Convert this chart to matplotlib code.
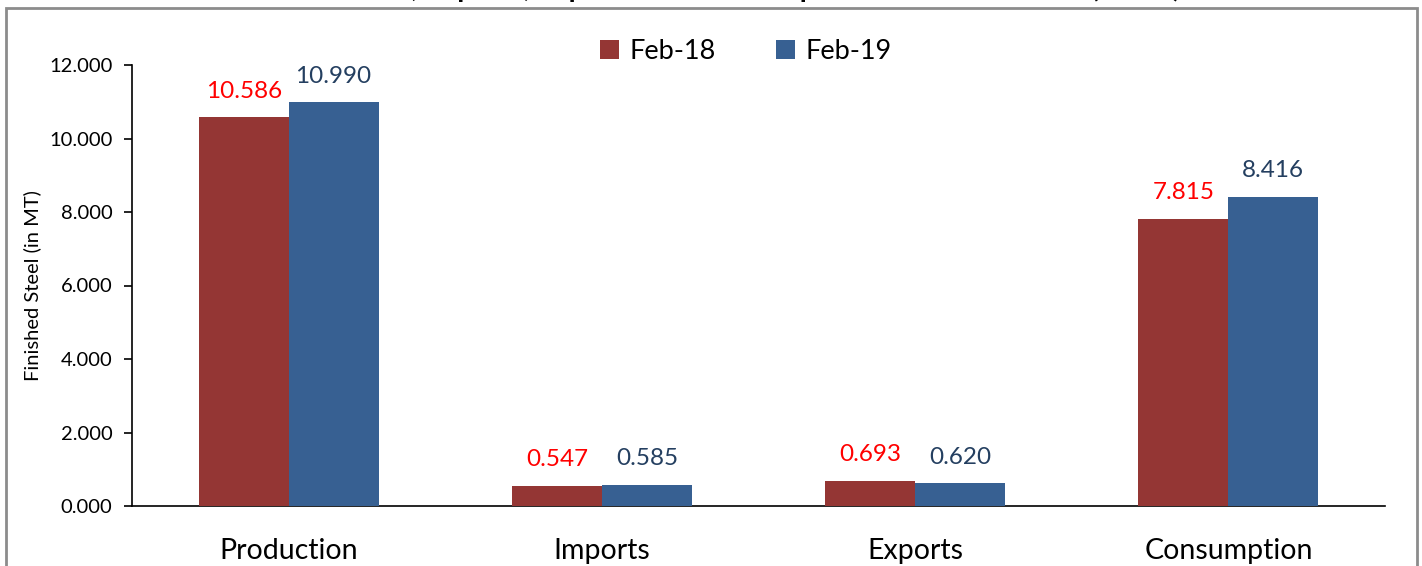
import numpy as np
import matplotlib.pyplot as plt
from matplotlib.patches import Rectangle

plt.rcParams['font.family'] = ['Lato', 'DejaVu Sans']

categories = ['Production', 'Imports', 'Exports', 'Consumption']
feb18 = [10.586, 0.547, 0.693, 7.815]
feb19 = [10.990, 0.585, 0.620, 8.416]
series_labels = ['Feb-18', 'Feb-19']
yticks = [0, 2, 4, 6, 8, 10, 12]

W, H = 1422, 566
fig = plt.figure(figsize=(W / 100, H / 100), dpi=100)

# outer frame of the chart (bottom edge lies outside the picture)
fig.patches.append(Rectangle((6 / W, -0.05), (1417 - 6) / W, 1.05 - 8 / H,
                             transform=fig.transFigure, fill=False,
                             edgecolor='#8c8c8c', linewidth=2))

# title, mostly cut off at the top edge
fig.text(725 / W, 1 + 3 / H, 'Production, Imports, Exports and Consumption of Finished Steel (in MT)',
         ha='center', va='baseline', fontsize=20.5, fontweight='bold', color='black')

ax = fig.add_axes([132 / W, 1 - 506 / H, (1385 - 132) / W, (506 - 65) / H])

x = np.arange(len(categories))
bw = 0.287
c18, c19 = '#943634', '#376092'
b1 = ax.bar(x - bw / 2, feb18, bw, color=c18, label=series_labels[0], zorder=3)
b2 = ax.bar(x + bw / 2, feb19, bw, color=c19, label=series_labels[1], zorder=3)

for rect, v in zip(b1, feb18):
    ax.text(rect.get_x() + rect.get_width() / 2, v + 0.42, '%.3f' % v,
            ha='center', va='bottom', fontsize=17.5, color='#ff0000')
for rect, v in zip(b2, feb19):
    ax.text(rect.get_x() + rect.get_width() / 2, v + 0.42, '%.3f' % v,
            ha='center', va='bottom', fontsize=17.5, color='#243f60')

ax.set_xlim(-0.5, len(categories) - 0.5)
ax.set_ylim(0, 12)
ax.set_yticks(yticks)
ax.set_yticklabels(['%.3f' % t for t in yticks], fontsize=14.5)
ax.set_xticks(x)
ax.set_xticklabels(categories, fontsize=20.5)
ax.tick_params(axis='x', length=0, pad=23)
ax.tick_params(axis='y', length=6, width=1.2, pad=8, direction='out')
for s in ['top', 'right']:
    ax.spines[s].set_visible(False)
ax.spines['left'].set_linewidth(1.2)
ax.spines['bottom'].set_linewidth(1.2)
ax.set_ylabel('Finished Steel (in MT)', fontsize=14.5, labelpad=6)

leg = ax.legend(loc='upper center', bbox_to_anchor=(0.49, 1.115), ncol=2, frameon=False,
                fontsize=19.5, handlelength=0.7, handleheight=0.7, columnspacing=2.2,
                handletextpad=0.4)

fig.savefig('out.png', dpi=100)
